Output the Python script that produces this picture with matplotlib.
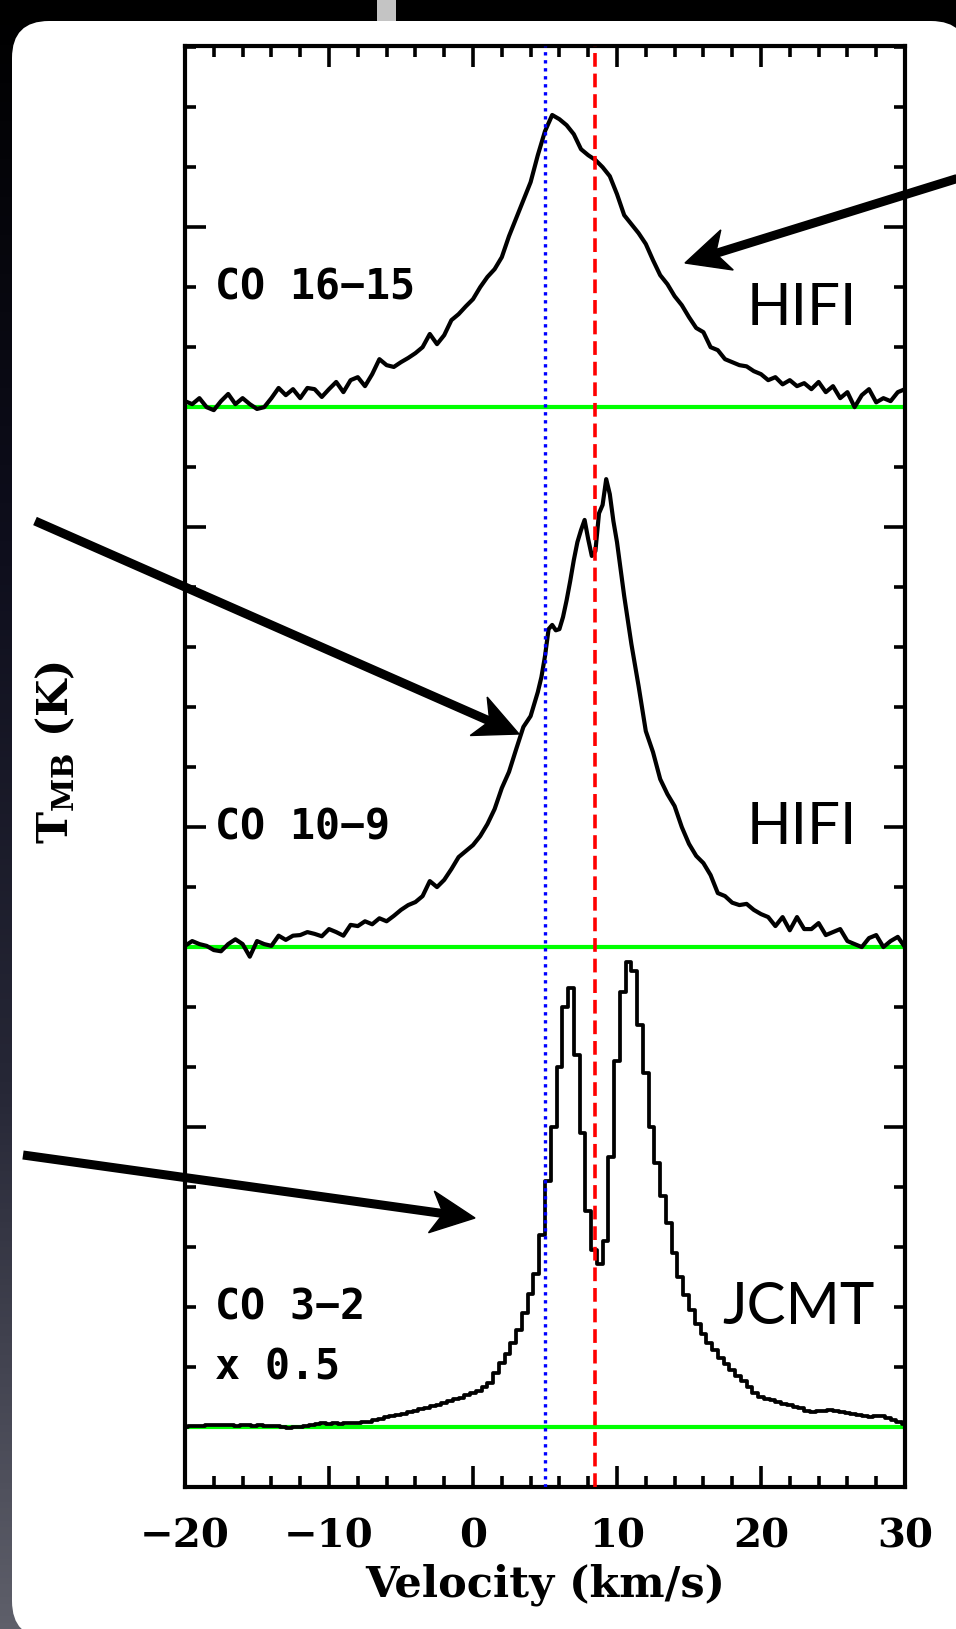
import numpy as np
import matplotlib
matplotlib.use('Agg')
import matplotlib.pyplot as plt
from matplotlib.ticker import MultipleLocator
from matplotlib.patches import FancyBboxPatch, Polygon, Rectangle
from matplotlib.lines import Line2D
from matplotlib.colors import LinearSegmentedColormap

plt.rcParams['mathtext.fontset'] = 'dejavuserif'

# --- data (T_MB in K, relative to each spectrum's own baseline) ---
# CO 16-15 (HIFI), 0.5 km/s grid starting at -20
co16_start, co16_step = -20.0, 0.5
co16_t = [0.10, 0.05, 0.15, 0.00, -0.05, 0.10, 0.22, 0.05, 0.15, 0.05,
          -0.03, 0.00, 0.15, 0.32, 0.20, 0.30, 0.15, 0.32, 0.30, 0.17,
          0.30, 0.42, 0.25, 0.45, 0.50, 0.35, 0.55, 0.80, 0.70, 0.67,
          0.75, 0.82, 0.90, 1.00, 1.22, 1.05, 1.20, 1.45, 1.55, 1.68,
          1.80, 2.00, 2.17, 2.30, 2.50, 2.85, 3.15, 3.45, 3.75, 4.20,
          4.60, 4.87, 4.80, 4.70, 4.55, 4.30, 4.20, 4.12, 4.00, 3.85,
          3.55, 3.20, 3.05, 2.90, 2.72, 2.45, 2.20, 2.05, 1.85, 1.70,
          1.50, 1.32, 1.25, 1.00, 0.95, 0.80, 0.75, 0.70, 0.68, 0.60,
          0.55, 0.45, 0.50, 0.38, 0.45, 0.35, 0.40, 0.30, 0.42, 0.25,
          0.35, 0.15, 0.25, 0.00, 0.20, 0.30, 0.08, 0.15, 0.10, 0.25,
          0.30]

# CO 10-9 (HIFI), three pieces: wings at 0.5 km/s, core at 0.25 km/s
co10_a_start, co10_a_step = -20.0, 0.5
co10_a = [0.02, 0.10, 0.05, 0.02, -0.05, -0.07, 0.05, 0.13, 0.05, -0.16,
          0.10, 0.05, 0.02, 0.19, 0.12, 0.19, 0.20, 0.25, 0.22, 0.18,
          0.30, 0.25, 0.19, 0.37, 0.35, 0.43, 0.38, 0.48, 0.43, 0.52,
          0.62, 0.70, 0.75, 0.85, 1.10, 1.00, 1.12, 1.30, 1.50, 1.60,
          1.70, 1.85, 2.05, 2.30, 2.65, 2.92, 3.30, 3.67, 3.85, 4.25]
co10_b_start, co10_b_step = 4.75, 0.25
co10_b = [4.50, 4.85, 5.30, 5.37, 5.28, 5.30, 5.50, 5.78, 6.10, 6.45,
          6.75, 6.95, 7.12, 6.80, 6.52, 6.60, 7.23, 7.37, 7.80, 7.55,
          7.10, 6.75, 6.30, 5.85]
co10_c_start, co10_c_step = 11.0, 0.5
co10_c = [5.05, 4.35, 3.60, 3.25, 2.80, 2.55, 2.35, 2.00, 1.72, 1.52,
          1.40, 1.20, 0.90, 0.85, 0.74, 0.70, 0.72, 0.62, 0.55, 0.50,
          0.35, 0.50, 0.28, 0.50, 0.30, 0.30, 0.40, 0.20, 0.25, 0.30,
          0.10, 0.05, 0.00, 0.15, 0.20, 0.00, 0.10, 0.17, 0.00]

# CO 3-2 (JCMT, x 0.5), 0.4 km/s channels starting at -20
co32_start, co32_step = -20.0, 0.4
co32_t = [0.00, 0.01, 0.02, 0.02, 0.03, 0.03, 0.04, 0.03, 0.03, 0.02,
          0.03, 0.03, 0.02, 0.03, 0.02, 0.02, 0.01, 0.00, -0.01, 0.00,
          0.00, 0.02, 0.04, 0.05, 0.06, 0.05, 0.06, 0.05, 0.06, 0.07,
          0.07, 0.08, 0.09, 0.11, 0.13, 0.16, 0.18, 0.20, 0.22, 0.25,
          0.27, 0.30, 0.32, 0.35, 0.37, 0.40, 0.43, 0.46, 0.49, 0.53,
          0.56, 0.60, 0.66, 0.74, 0.90, 1.07, 1.22, 1.40, 1.62, 1.90,
          2.22, 2.55, 3.20, 4.10, 5.00, 6.00, 7.00, 7.32, 6.20, 4.90,
          3.60, 2.95, 2.72, 3.10, 4.50, 6.10, 7.25, 7.75, 7.60, 6.70,
          5.90, 5.00, 4.40, 3.85, 3.40, 2.90, 2.50, 2.20, 1.95, 1.72,
          1.55, 1.40, 1.28, 1.15, 1.05, 0.95, 0.85, 0.76, 0.66, 0.56,
          0.50, 0.47, 0.45, 0.42, 0.39, 0.36, 0.34, 0.31, 0.26, 0.25,
          0.26, 0.27, 0.28, 0.27, 0.25, 0.23, 0.21, 0.20, 0.18, 0.17,
          0.18, 0.19, 0.15, 0.11, 0.08, 0.05]

v_blue = 5.0     # dotted blue reference velocity
v_red = 8.45     # dashed red reference velocity

line_labels = ['CO 16\u221215', 'CO 10\u22129', 'CO 3\u22122', 'x 0.5']
instr_labels = ['HIFI', 'HIFI', 'JCMT']
xticks = [-20, -10, 0, 10, 20, 30]

# --- layout ---
W, H = 956, 1629
offsets = [17, 8, 0]

fig = plt.figure(figsize=(W / 100, H / 100), dpi=100)
fig.patch.set_facecolor('black')

# dark slide background with a soft gradient
bg = fig.add_axes([0, 0, 1, 1], zorder=-10)
bg.axis('off')
cmap = LinearSegmentedColormap.from_list('bg', ['#000000', '#0e0e1c', '#262736', '#5e5f6a'])
bg.imshow(np.linspace(0, 1, 256)[:, None], aspect='auto', cmap=cmap,
          extent=[0, 1, 0, 1], origin='upper')

# white rounded card
card = FancyBboxPatch((0.12, -0.09), 9.56, 16.17,
                      boxstyle='round,pad=0,rounding_size=0.37',
                      transform=fig.dpi_scale_trans, facecolor='white',
                      edgecolor='none', zorder=-5)
fig.add_artist(card)
fig.add_artist(Rectangle((3.77, 16.05), 0.19, 0.26, transform=fig.dpi_scale_trans,
                         facecolor='#c4c4c4', edgecolor='none', zorder=-6))

ax = fig.add_axes([185 / W, 142 / H, 720 / W, 1441 / H])
ax.set_facecolor('white')

# baselines
for off in offsets:
    ax.axhline(off, color='#00ff00', lw=3.0, zorder=2)

# spectra
v16 = co16_start + co16_step * np.arange(len(co16_t))
ax.plot(v16, np.array(co16_t) + offsets[0], color='black', lw=3.0, zorder=3)

v10 = np.concatenate([co10_a_start + co10_a_step * np.arange(len(co10_a)),
                      co10_b_start + co10_b_step * np.arange(len(co10_b)),
                      co10_c_start + co10_c_step * np.arange(len(co10_c))])
t10 = np.concatenate([co10_a, co10_b, co10_c])
ax.plot(v10, t10 + offsets[1], color='black', lw=3.0, zorder=3)

v32 = co32_start + co32_step * np.arange(len(co32_t))
ax.plot(v32, np.array(co32_t) + offsets[2], color='black', lw=2.7,
        drawstyle='steps-mid', zorder=3)

# reference velocities
ax.axvline(v_blue, color='#0000ff', lw=2.4, dashes=(1, 1.4), zorder=4)
ax.axvline(v_red, color='#ff0000', lw=2.6, dashes=(3.8, 1.9), zorder=4)

ax.set_xlim(-20, 30)
ax.set_ylim(-1, 23.02)

ax.xaxis.set_major_locator(MultipleLocator(10))
ax.xaxis.set_minor_locator(MultipleLocator(2))
ax.yaxis.set_major_locator(MultipleLocator(5))
ax.yaxis.set_minor_locator(MultipleLocator(1))
ax.tick_params(which='both', direction='in', top=True, right=True,
               width=2.6, labelleft=False)
ax.tick_params(which='major', length=15, pad=22)
ax.tick_params(which='minor', length=8)
ax.set_xticks(xticks)
ax.set_xticklabels([str(t).replace('-', '\u2212') for t in xticks],
                   fontsize=29, fontweight='bold', family='DejaVu Serif')
for s in ax.spines.values():
    s.set_linewidth(3.0)

ax.set_xlabel('Velocity (km/s)', fontsize=31, fontweight='bold',
              family='DejaVu Serif', labelpad=6)
ax.set_ylabel(r'$\mathbf{T_{MB}}$ (K)', fontsize=31, fontweight='bold',
              family='DejaVu Serif')
ax.yaxis.set_label_coords(-0.149, 0.51)

# labels inside the plot
mono = dict(family='DejaVu Sans Mono', fontweight='bold', fontsize=30,
            va='center', ha='left')
ax.text(-17.9, 19.0, line_labels[0], **mono)
ax.text(-17.9, 10.0, line_labels[1], **mono)
ax.text(-17.9, 2.0, line_labels[2], **mono)
ax.text(-17.9, 1.0, line_labels[3], **mono)

sans = dict(family='Lato', fontsize=42, va='center', ha='center')
ax.text(22.85, 18.65, instr_labels[0], **sans)
ax.text(22.85, 10.0, instr_labels[1], **sans)
ax.text(22.6, 2.0, instr_labels[2], **sans)


# annotation arrows (image pixel coords, origin top-left)
def arrow(tail, tip, L=44, Wd=21, notch=12, lw=6.5):
    tx, ty = tail[0], H - tail[1]
    px, py = tip[0], H - tip[1]
    d = np.array([px - tx, py - ty], dtype=float)
    u = d / np.hypot(*d)
    n = np.array([-u[1], u[0]])
    tipv = np.array([px, py])
    base = tipv - u * L
    b1 = base + n * Wd
    b2 = base - n * Wd
    nt = tipv - u * (L - notch)
    pts = np.array([tipv, b1, nt, b2]) / [W, H]
    fig.add_artist(Polygon(pts, closed=True, facecolor='black', edgecolor='black',
                           lw=1, transform=fig.transFigure, zorder=10))
    end = nt + u * 2
    fig.add_artist(Line2D([tx / W, end[0] / W], [ty / H, end[1] / H], color='black',
                          lw=lw, solid_capstyle='butt', transform=fig.transFigure,
                          zorder=10))


arrow((962, 177), (685, 263))
arrow((35, 521), (519, 734))
arrow((23, 1155), (475, 1218))

fig.savefig('out.png', dpi=100, facecolor=fig.get_facecolor())
